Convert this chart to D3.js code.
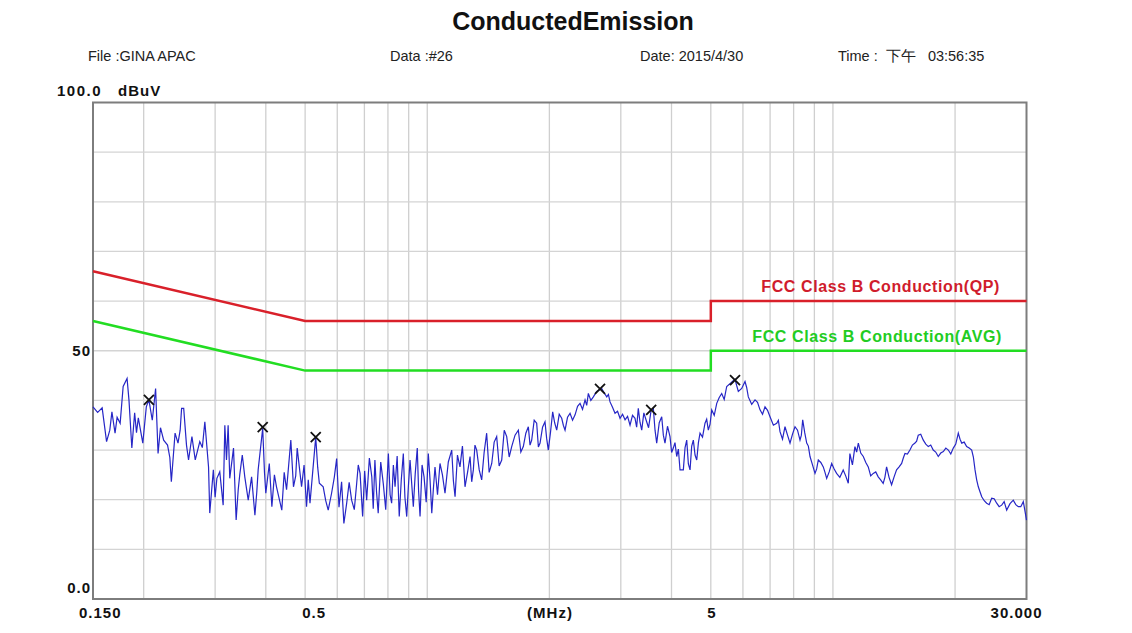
<!DOCTYPE html>
<html lang="en">
  <head>
    <meta charset="utf-8">
    <title>Conducted Emission</title>
    <script type="text/javascript" src="https://d3js.org/d3.v7.min.js"></script>
    <style>
      body { margin: 0; background: #fff; font-family: 'Liberation Sans', Arial, sans-serif; }
      .lbl { font-weight: bold; font-size: 15px; fill: #111; letter-spacing: 1px; }
      .hdr { font-size: 14.5px; fill: #222; white-space: pre; }
    </style>
  </head>
  <body>
    <div id="viz"></div>
    <script type="text/javascript">

    // header texts
    var title = "ConductedEmission";
    var headerTexts = ["File :GINA APAC", "Data :#26", "Date: 2015/4/30", "Time :  下午   03:56:35"];
    var unitText = "dBuV";

    // axis ticks
    var xTickVals = [0.15, 0.5, 5, 30];
    var xTickLabels = ["0.150", "0.5", "5", "30.000"];
    var yTickVals = [0, 50, 100];
    var yTickLabels = ["0.0", "50", "100.0"];
    var xGrid = [0.2, 0.3, 0.4, 0.5, 0.6, 0.7, 0.8, 0.9, 1, 2, 3, 4, 5, 6, 7, 8, 9, 10, 20];
    var yGrid = [10, 20, 30, 40, 50, 60, 70, 80, 90];

    // FCC class B limits
    var limitMHz = [0.15, 0.5, 5, 5, 30];
    var qpLimit = [66, 56, 56, 60, 60];
    var avgLimit = [56, 46, 46, 50, 50];
    var qpName = "FCC Class B Conduction(QP)";
    var avgName = "FCC Class B Conduction(AVG)";

    var traceMHz = [
      0.150,0.158,0.162,0.167,0.170,0.175,0.178,0.182,0.187,0.190,0.194,0.199,0.203,0.206,0.214,0.217,0.224,0.229,0.234,0.239,
      0.243,0.248,0.251,0.258,0.263,0.268,0.275,0.283,0.289,0.291,0.297,0.303,0.308,0.314,0.317,0.323,0.326,0.333,0.338,0.345,
      0.355,0.362,0.369,0.376,0.383,0.393,0.400,0.408,0.414,0.425,0.438,0.450,0.461,0.468,0.478,0.490,0.504,0.514,0.531,0.542,
      0.554,0.570,0.581,0.598,0.615,0.623,0.633,0.651,0.670,0.683,
      0.693,0.709,0.730,0.743,0.757,0.779,0.802,0.817,0.833,0.853,0.873,0.890,0.907,0.924,0.945,0.960,0.982,1.006,1.026,1.045,
      1.075,1.106,1.149,1.171,1.204,1.239,1.275,1.299,1.324,1.362,1.401,1.442,1.483,1.526,1.570,1.615,1.677,1.725,1.775,1.809,
      1.861,1.897,1.951,1.988,2.038,2.085,2.145,2.186,2.249,2.314,2.380,2.449,2.495,2.567,2.666,2.692,2.770,2.822,2.903,2.987,
      3.073,3.161,3.252,3.313,3.378,3.461,3.564,3.608,3.678,3.784,3.855,3.966,4.041,4.120,4.198,
      4.278,4.361,4.444,4.528,4.616,4.703,4.838,4.930,5.026,5.171,5.319,5.472,5.736,5.845,6.071,6.186,6.426,6.611,6.801,6.997,
      7.268,7.405,7.618,7.838,8.063,8.295,8.423,8.617,8.780,9.032,9.203,9.467,9.651,9.929,10.21,10.60,10.91,11.01,11.33,11.55,
      11.88,12.22,12.57,12.93,13.30,13.56,13.95,14.35,14.77,15.05,15.48,15.93,16.23,16.70,17.18,17.67,18.18,18.71,19.25,19.80,
      20.37,20.77,21.36,21.98,22.40,22.82,23.27,23.93,24.62,25.33,26.06,26.81,27.83,28.63,29.46,30.0];
    var traceDbuv = [
      38.7,38.5,31.7,37.7,33.4,35.4,42.8,44.4,30.4,37.5,36.5,31.4,38.7,40.1,42.4,29.3,32.0,31.0,23.6,33.4,
      31.4,38.4,38.4,28.0,32.7,28.0,31.7,35.7,26.6,17.3,26.0,24.3,25.6,18.9,35.0,35.0,24.3,30.4,15.9,25.0,
      24.6,19.9,24.6,16.9,26.0,34.4,21.3,27.3,18.6,22.6,17.9,22.0,32.0,22.6,30.4,22.6,18.6,19.3,32.6,23.3,
      22.6,17.9,21.3,28.3,23.6,15.2,19.3,19.9,23.3,25.3,
      16.6,19.9,24.6,28.0,17.3,23.3,29.3,19.3,22.6,16.6,29.3,16.6,28.0,18.6,30.4,16.6,24.6,29.3,17.3,26.6,
      27.3,21.3,30.0,20.6,26.6,22.6,28.7,26.0,30.0,24.0,33.4,27.3,32.7,28.0,32.7,30.7,34.0,30.7,34.7,32.0,
      35.4,31.4,35.7,30.0,37.7,34.0,36.4,34.0,37.4,37.1,39.4,40.1,41.4,40.7,42.2,42.4,40.7,39.7,37.4,36.4,
      36.1,35.0,36.4,38.4,34.0,36.1,38.1,38.4,31.4,36.7,31.4,32.7,30.4,28.7,26.0,
      26.0,32.0,26.0,32.0,28.0,33.4,35.4,34.0,38.1,39.4,41.4,42.8,44.3,41.8,43.8,40.7,40.1,38.1,38.7,36.7,
      35.4,33.7,34.7,31.4,34.7,32.0,36.1,31.4,28.7,25.3,28.0,26.6,24.3,27.3,25.3,26.0,23.3,29.3,30.7,31.4,
      28.7,26.6,25.3,24.6,23.3,26.6,23.0,26.0,27.3,29.3,30.0,31.4,33.0,32.0,30.7,30.0,28.7,29.7,30.0,30.4,
      33.4,31.4,30.7,30.0,26.0,22.6,20.6,19.3,20.3,19.3,18.9,17.9,19.9,18.6,19.6,15.9];

    // extra in-between spikes of the same scan
    var spikeMHz = [
      0.154,0.165,0.172,0.184,0.192,0.210,0.220,0.232,0.246,0.255,0.279,0.300,0.320,0.342,0.350,0.380,0.397,0.420,0.444,0.474,
      0.497,0.509,0.537,0.562,0.590,0.606,0.642,0.661,0.676,
      0.701,0.720,0.736,0.750,0.768,0.790,0.810,0.825,0.843,0.863,0.881,0.898,0.915,0.934,0.952,0.971,0.994,1.016,1.035,1.060,
      1.090,1.127,1.160,1.187,1.221,1.257,1.287,1.311,1.343,1.381,1.421,1.462,1.504,1.548,1.592,1.646,1.701,1.750,1.792,1.835,
      1.879,1.924,1.969,2.013,2.061,2.115,2.165,2.217,2.281,2.347,2.414,2.472,2.531,2.616,2.731,2.796,2.862,2.945,3.030,3.117,
      3.206,3.282,3.345,3.419,3.512,3.643,3.731,3.819,3.910,4.003,4.080,4.159,
      4.320,4.402,4.486,4.572,4.660,4.770,4.884,4.978,5.098,5.245,5.395,5.600,5.790,5.958,6.128,6.306,6.518,6.706,6.899,7.132,
      7.336,7.511,7.728,7.950,8.179,8.359,8.520,8.698,8.905,9.117,9.334,9.559,9.789,10.07,10.40,10.75,11.17,11.44,11.71,12.05,
      12.39,12.75,13.11,13.43,13.75,14.15,14.56,14.91,15.26,15.70,16.08,16.46,16.94,17.42,17.92,18.44,18.98,19.52,20.08,20.57,
      21.06,21.67,22.19,22.61,23.04,23.60,24.27,24.97,25.69,26.43,27.32,28.23,29.04,29.73];
    var spikeDbuv = [
      37.6,34.0,36.6,40.0,33.5,36.0,34.5,28.5,34.0,31.0,30.5,20.5,28.0,22.0,29.0,21.5,25.5,25.0,25.5,24.8,
      27.0,24.0,26.5,19.8,24.5,18.5,23.5,18.0,27.0,
      25.8,28.4,18.2,21.5,27.6,18.0,21.0,27.0,28.8,24.0,20.5,22.4,23.5,25.2,21.8,27.0,19.5,24.0,22.0,21.0,
      25.0,27.6,23.8,29.0,30.8,25.5,23.6,31.0,26.0,29.5,25.5,31.6,26.8,34.0,28.6,33.0,29.6,33.4,31.0,36.0,
      30.6,34.6,32.4,33.6,35.5,37.2,35.0,36.6,36.0,38.8,38.2,39.0,40.0,41.8,41.5,41.2,38.6,37.8,37.2,36.8,
      37.0,34.6,35.6,37.5,34.5,34.0,35.5,33.0,34.8,29.5,31.5,30.2,
      30.5,27.2,30.8,29.0,31.5,32.6,36.2,35.2,37.0,40.6,40.2,43.5,43.0,42.4,42.6,39.2,39.6,37.2,38.0,35.0,
      36.0,32.2,33.0,33.2,34.0,33.0,33.5,30.8,27.0,26.2,27.5,25.5,25.6,26.2,24.5,24.8,27.0,29.6,29.4,27.5,
      24.8,25.6,24.0,24.5,24.5,24.6,26.6,28.4,29.2,31.0,31.8,33.2,31.2,31.0,29.6,29.4,30.4,29.2,31.2,32.2,
      31.6,30.4,28.6,24.0,21.6,19.8,19.0,20.2,18.6,19.6,19.2,19.0,18.6,17.8];

    // peak markers
    var markerMHz = [0.206, 0.393, 0.531, 2.666, 3.564, 5.736];
    var markerDbuv = [40.1, 34.6, 32.6, 42.3, 38.1, 44.1];

    var W = 1132, H = 633;
    var svg = d3.select("#viz").append("svg")
      .attr("width", W).attr("height", H);

    var x = d3.scaleLog().domain([0.15, 30]).range([93, 1026.5]);
    var y = d3.scaleLinear().domain([0, 100]).range([599, 102.5]);

    // title + header line
    svg.append("text")
      .attr("x", 573).attr("y", 30)
      .attr("text-anchor", "middle")
      .style("font-size", "25px").style("font-weight", "bold").style("fill", "#111")
      .text(title);

    var hdrX = [88, 390, 640, 838];
    svg.selectAll(".hdr").data(headerTexts).enter().append("text")
      .attr("class", "hdr")
      .attr("x", function(d, i) { return hdrX[i]; })
      .attr("y", 61)
      .text(function(d) { return d; });

    // grid
    svg.append("g").selectAll("line").data(xGrid).enter().append("line")
      .attr("x1", function(d) { return x(d); }).attr("x2", function(d) { return x(d); })
      .attr("y1", y(100)).attr("y2", y(0))
      .style("stroke", "#cfcfcf").style("stroke-width", 1.3);
    svg.append("g").selectAll("line").data(yGrid).enter().append("line")
      .attr("x1", x(0.15)).attr("x2", x(30))
      .attr("y1", function(d) { return y(d); }).attr("y2", function(d) { return y(d); })
      .style("stroke", "#d4d4d4").style("stroke-width", 1.3);

    // frame
    svg.append("rect")
      .attr("x", x(0.15)).attr("y", y(100))
      .attr("width", x(30) - x(0.15)).attr("height", y(0) - y(100))
      .style("fill", "none").style("stroke", "#7d7d7d").style("stroke-width", 2);

    // limit lines
    var limLine = function(vals) {
      return d3.line()
        .x(function(d, i) { return x(limitMHz[i]); })
        .y(function(d) { return y(d); })(vals);
    };
    svg.append("path").attr("d", limLine(qpLimit))
      .style("fill", "none").style("stroke", "#d9202a").style("stroke-width", 2.5);
    svg.append("path").attr("d", limLine(avgLimit))
      .style("fill", "none").style("stroke", "#22dd22").style("stroke-width", 2.5);

    svg.append("text").attr("x", 1000).attr("y", 292).attr("text-anchor", "end")
      .style("font-size", "16px").style("font-weight", "bold").style("fill", "#d01c2c")
      .style("letter-spacing", "0.6px")
      .text(qpName);
    svg.append("text").attr("x", 1002).attr("y", 342).attr("text-anchor", "end")
      .style("font-size", "16px").style("font-weight", "bold").style("fill", "#22cc22")
      .style("letter-spacing", "0.6px")
      .text(avgName);

    // trace: main readings plus spikes, in frequency order
    var pts = traceMHz.map(function(f, i) { return [f, traceDbuv[i]]; })
      .concat(spikeMHz.map(function(f, i) { return [f, spikeDbuv[i]]; }))
      .sort(function(a, b) { return a[0] - b[0]; });

    var trace = d3.line()
      .x(function(d) { return x(d[0]); })
      .y(function(d) { return y(d[1]); });
    svg.append("path").attr("d", trace(pts))
      .style("fill", "none").style("stroke", "#2626c6").style("stroke-width", 1.2);

    // markers
    svg.append("g").selectAll("path").data(markerDbuv).enter().append("path")
      .attr("d", function(d, i) {
        var cx = x(markerMHz[i]), cy = y(d), r = 5;
        return "M" + (cx - r) + "," + (cy - r) + "L" + (cx + r) + "," + (cy + r) +
               "M" + (cx - r) + "," + (cy + r) + "L" + (cx + r) + "," + (cy - r);
      })
      .style("stroke", "#111").style("stroke-width", 1.8);

    // axis labels
    svg.selectAll(".xl").data(xTickVals).enter().append("text")
      .attr("class", "lbl")
      .attr("x", function(d) { return x(d); })
      .attr("y", 618)
      .attr("text-anchor", function(d, i) { return i == 0 ? "start" : (i == 3 ? "end" : "middle"); })
      .attr("dx", function(d, i) { return i == 0 ? -14 : (i == 3 ? 16 : (i == 1 ? 9 : 1)); })
      .text(function(d, i) { return xTickLabels[i]; });
    svg.append("text").attr("class", "lbl")
      .attr("x", 550).attr("y", 618).attr("text-anchor", "middle").text("(MHz)");

    svg.selectAll(".yl").data(yTickVals).enter().append("text")
      .attr("class", "lbl")
      .attr("x", function(d) { return d == 100 ? 102 : 91; })
      .attr("y", function(d) { return d == 100 ? 96 : (d == 0 ? y(d) - 6 : y(d) + 5); })
      .attr("text-anchor", "end")
      .style("letter-spacing", function(d) { return d == 100 ? "1.5px" : "1px"; })
      .text(function(d, i) { return yTickLabels[i]; });
    svg.append("text").attr("class", "lbl")
      .attr("x", 118).attr("y", 96).text(unitText);

    </script>
  </body>
</html>
